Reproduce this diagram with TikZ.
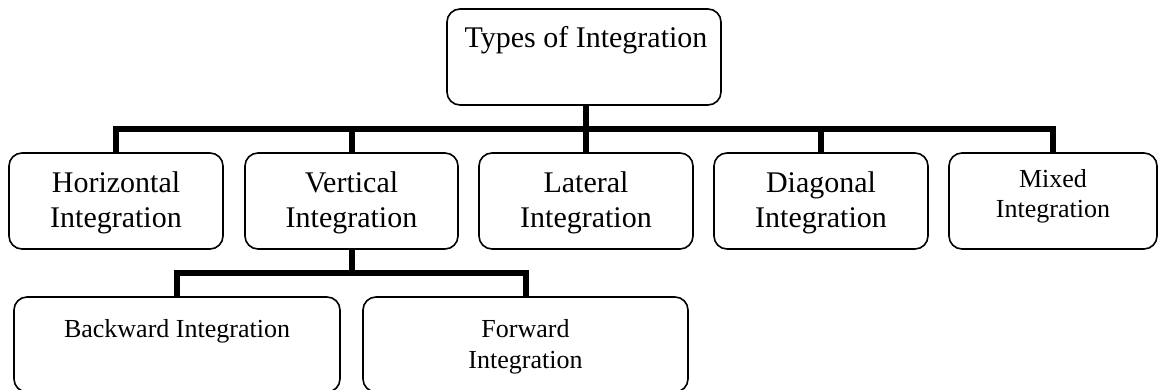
\documentclass[tikz,border=0pt]{standalone}
\usepackage{fontspec}
\setmainfont{Liberation Serif}
\begin{document}
\begin{tikzpicture}[x=1pt,y=-1pt,
  box/.style={draw=black,line width=1.6pt,rounded corners=13pt,inner sep=0pt},
  big/.style={font=\fontsize{30}{35}\selectfont,align=center,anchor=base,inner sep=0pt},
  small/.style={font=\fontsize{26}{30.5}\selectfont,align=center,anchor=base,inner sep=0pt},
  conn/.style={line width=6pt,line join=miter}]
\useasboundingbox (0,0) rectangle (1164,390);
% boxes
\node[box,minimum width=274pt,minimum height=96pt] (top) at (584,57) {};
\node[box,minimum width=214pt,minimum height=96pt] (hor) at (116,201) {};
\node[box,minimum width=213pt,minimum height=96pt] (ver) at (351.5,201) {};
\node[box,minimum width=214pt,minimum height=96pt] (lat) at (586,201) {};
\node[box,minimum width=214pt,minimum height=96pt] (dia) at (821,201) {};
\node[box,minimum width=208pt,minimum height=96pt] (mix) at (1053,201) {};
\node[box,minimum width=326pt,minimum height=95pt] (back) at (177,344.5) {};
\node[box,minimum width=325pt,minimum height=95pt] (fwd) at (525.5,344.5) {};
% texts (base = baseline of the last line)
\node[big] (topt) at (586,48) {Types of Integration};
\node[big] (hort) at (116,227) {Horizontal\\Integration};
\node[big] (vert) at (351.5,227) {Vertical\\Integration};
\node[big] (latt) at (586,227) {Lateral\\Integration};
\node[big] (diat) at (821,227) {Diagonal\\Integration};
\node[small] (mixt) at (1053,218) {Mixed\\Integration};
\node[small] (backt) at (177,337) {Backward Integration};
\node[small] (fwdt) at (525.5,368) {Forward\\Integration};
% connectors
\coordinate (bus) at (0,129);
\coordinate (bus2) at (0,273);
\draw[conn] (lat.north |- top.south) -- (lat.north);
\draw[conn] (hor.north) -- (hor.north |- bus) -- (mix.north |- bus) -- (mix.north);
\draw[conn] (ver.north |- bus) -- (ver.north);
\draw[conn] (dia.north |- bus) -- (dia.north);
\draw[conn] (ver.south) -- (ver.south |- bus2);
\draw[conn] (back.north) -- (back.north |- bus2) -- (fwd.north |- bus2) -- (fwd.north);
\end{tikzpicture}
\end{document}
